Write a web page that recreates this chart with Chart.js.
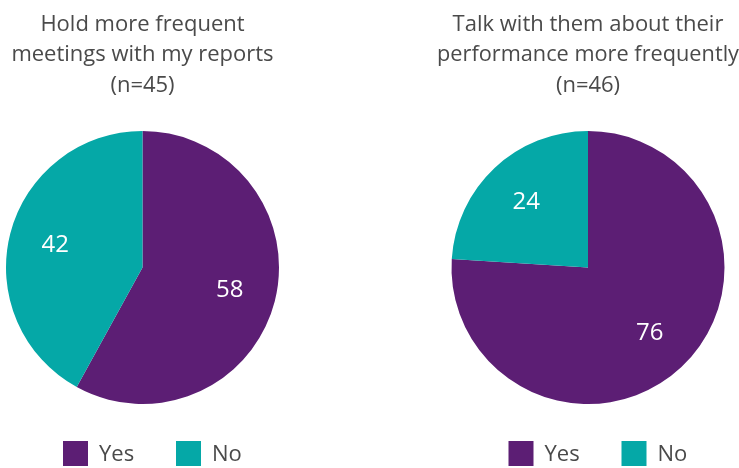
<!DOCTYPE html>
<html>
<head>
<meta charset="utf-8">
<script src="https://cdn.jsdelivr.net/npm/chart.js@4/dist/chart.umd.min.js"></script>
<style>
  html, body { margin: 0; padding: 0; background: #ffffff; }
  #wrap { position: relative; width: 739px; height: 468px; overflow: hidden; }
  canvas { position: absolute; top: 0; }
  #c1 { left: 0; }
  #c2 { left: 369px; }
</style>
</head>
<body>
<div id="wrap">
  <canvas id="c1" width="369" height="468"></canvas>
  <canvas id="c2" width="370" height="468"></canvas>
</div>
<script>
// Survey answers, percent of respondents
const answers = ['Yes', 'No'];
const meetingsTitle = ['Hold more frequent', 'meetings with my reports', '(n=45)'];
const meetingsShare = [58, 42];
const feedbackTitle = ['Talk with them about their', 'performance more frequently', '(n=46)'];
const feedbackShare = [76, 24];
const sliceColors = ['#5c1e74', '#05a8a7'];

const FONT = "'Open Sans', 'DejaVu Sans', sans-serif";
const TEXT_GREY = '#4a4a4a';

// White value labels placed inside each slice along its mid-angle
const sliceValues = {
  id: 'sliceValues',
  afterDatasetsDraw(chart) {
    const ctx = chart.ctx;
    const meta = chart.getDatasetMeta(0);
    const values = chart.data.datasets[0].data;
    ctx.save();
    ctx.fillStyle = '#ffffff';
    ctx.font = '24px ' + FONT;
    ctx.textAlign = 'center';
    ctx.textBaseline = 'middle';
    meta.data.forEach((arc, i) => {
      const p = arc.getProps(['x', 'y', 'startAngle', 'endAngle', 'outerRadius'], true);
      const mid = (p.startAngle + p.endAngle) / 2;
      const r = p.outerRadius * 0.66;
      ctx.fillText(String(values[i]), p.x + Math.cos(mid) * r, p.y + Math.sin(mid) * r);
    });
    ctx.restore();
  }
};

// Square-swatch legend below the pie
const swatchLegend = {
  id: 'swatchLegend',
  afterDraw(chart) {
    const ctx = chart.ctx;
    const area = chart.chartArea;
    const cx = (area.left + area.right) / 2;
    const ds = chart.data.datasets[0];
    const box = 25, top = 441, stride = 113;
    let x = cx - 79.5;
    ctx.save();
    ctx.font = '22px ' + FONT;
    ctx.textBaseline = 'middle';
    ctx.textAlign = 'left';
    chart.data.labels.forEach((label, i) => {
      ctx.fillStyle = ds.backgroundColor[i];
      ctx.fillRect(x, top, box, box);
      ctx.fillStyle = TEXT_GREY;
      ctx.fillText(label, x + box + 11, top + box / 2 + 1);
      x += stride;
    });
    ctx.restore();
  }
};

function makePie(id, titleLines, values, pad) {
  return new Chart(document.getElementById(id), {
    type: 'pie',
    data: {
      labels: answers,
      datasets: [{
        data: values,
        backgroundColor: sliceColors,
        borderWidth: 0,
        hoverOffset: 0
      }]
    },
    options: {
      responsive: false,
      animation: false,
      events: [],
      layout: { padding: { left: pad.left, right: pad.right, top: 0, bottom: 64 } },
      plugins: {
        legend: { display: false },
        tooltip: { enabled: false },
        title: {
          display: true,
          text: titleLines,
          color: TEXT_GREY,
          font: { family: FONT, size: 22, weight: 'normal', lineHeight: '30.5px' },
          padding: { top: 9, bottom: 30.5 }
        }
      }
    },
    plugins: [sliceValues, swatchLegend]
  });
}

makePie('c1', meetingsTitle, meetingsShare, { left: 0, right: 84 });
makePie('c2', feedbackTitle, feedbackShare, { left: 68, right: 0 });
</script>
</body>
</html>
